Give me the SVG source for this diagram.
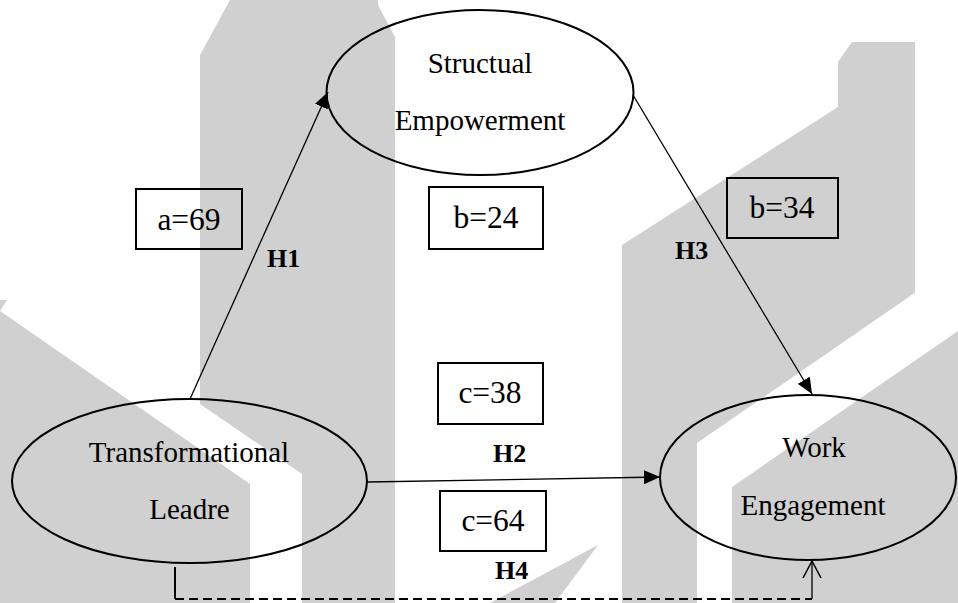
<svg xmlns="http://www.w3.org/2000/svg" width="958" height="603" viewBox="0 0 958 603">
<defs>
<style>
.wm{fill:#d0d0d0;stroke:none}
.wh{fill:#ffffff;stroke:none}
.node ellipse{fill:none;stroke:#000;stroke-width:2}
.lbl{font-family:"Liberation Serif","Times New Roman",serif;font-size:29px;fill:#000;text-anchor:middle}
.box rect{fill:none;stroke:#000;stroke-width:2}
.box text{font-size:31.5px}
.hyp{font-family:"Liberation Serif","Times New Roman",serif;font-size:26px;font-weight:bold;fill:#000}
.edge{stroke:#000;stroke-width:1.3;fill:none}
.dash{stroke:#000;stroke-width:2;fill:none;stroke-dasharray:9 5}
.solid2{stroke:#000;stroke-width:2;fill:none}
</style>
<marker id="fa" viewBox="0 0 16 14" refX="16" refY="7" markerWidth="16" markerHeight="14" markerUnits="userSpaceOnUse" orient="auto">
<path d="M0,0 L16,7 L0,14 Z" fill="#000"/>
</marker>
<marker id="oa" viewBox="0 0 18 20" refX="17" refY="10" markerWidth="18" markerHeight="20" markerUnits="userSpaceOnUse" orient="auto">
<path d="M0,1 L17,10 L0,19" fill="none" stroke="#000" stroke-width="1.5"/>
</marker>
</defs>
<rect width="958" height="603" fill="#fff"/>
<g id="watermark">
<polygon class="wm" points="230,0 378,0 378,5 395,37 395,603 302,603 302,474 200,404 200,55"/>
<polygon class="wm" points="0,300 7,300 0,311 250,484 250,603 0,603"/>
<polygon class="wm" points="622,245 838,107 838,62 852,42 915,42 915,300 958,270 958,603 622,603"/>
<polygon class="wh" points="697,603 697,443 958,263 958,331 732,487 732,603"/>
<polygon class="wm" points="490,603 598,545 555,603"/>
</g>
<g id="connectors">
<line class="edge" x1="190" y1="399" x2="328" y2="92" marker-end="url(#fa)"/>
<line class="edge" x1="633" y1="95" x2="812" y2="394" marker-end="url(#fa)"/>
<line class="edge" x1="367" y1="482" x2="660" y2="477" marker-end="url(#fa)"/>
<polyline class="solid2" points="175,567 175,599"/>
<line class="dash" x1="175" y1="599" x2="812" y2="599"/>
<line class="edge" x1="812" y1="599" x2="812" y2="561" marker-end="url(#oa)"/>
</g>
<g id="node-structural" class="node">
<ellipse cx="480" cy="92.5" rx="153.5" ry="82.5"/>
<text class="lbl" x="480" y="73">Structual</text>
<text class="lbl" x="480" y="130">Empowerment</text>
</g>
<g id="node-transformational" class="node">
<ellipse cx="189.5" cy="481" rx="177.5" ry="82"/>
<text class="lbl" x="189" y="462">Transformational</text>
<text class="lbl" x="189.5" y="519">Leadre</text>
</g>
<g id="node-work" class="node">
<ellipse cx="808" cy="477.5" rx="148" ry="82.5"/>
<text class="lbl" x="814" y="457">Work</text>
<text class="lbl" x="813" y="515">Engagement</text>
</g>
<g id="box-a69" class="box">
<rect x="136" y="189" width="106" height="60"/>
<text class="lbl" x="189" y="230">a=69</text>
</g>
<g id="box-b24" class="box">
<rect x="429" y="187" width="114" height="62"/>
<text class="lbl" x="486" y="228">b=24</text>
</g>
<g id="box-b34" class="box">
<rect x="727" y="178" width="111" height="60"/>
<text class="lbl" x="782" y="218">b=34</text>
</g>
<g id="box-c38" class="box">
<rect x="438" y="363" width="105" height="61"/>
<text class="lbl" x="490" y="403">c=38</text>
</g>
<g id="box-c64" class="box">
<rect x="440" y="491" width="106" height="60"/>
<text class="lbl" x="493" y="531">c=64</text>
</g>
<g id="labels">
<text class="hyp" x="267" y="267">H1</text>
<text class="hyp" x="493" y="462">H2</text>
<text class="hyp" x="675" y="259">H3</text>
<text class="hyp" x="495" y="579">H4</text>
</g>
</svg>
